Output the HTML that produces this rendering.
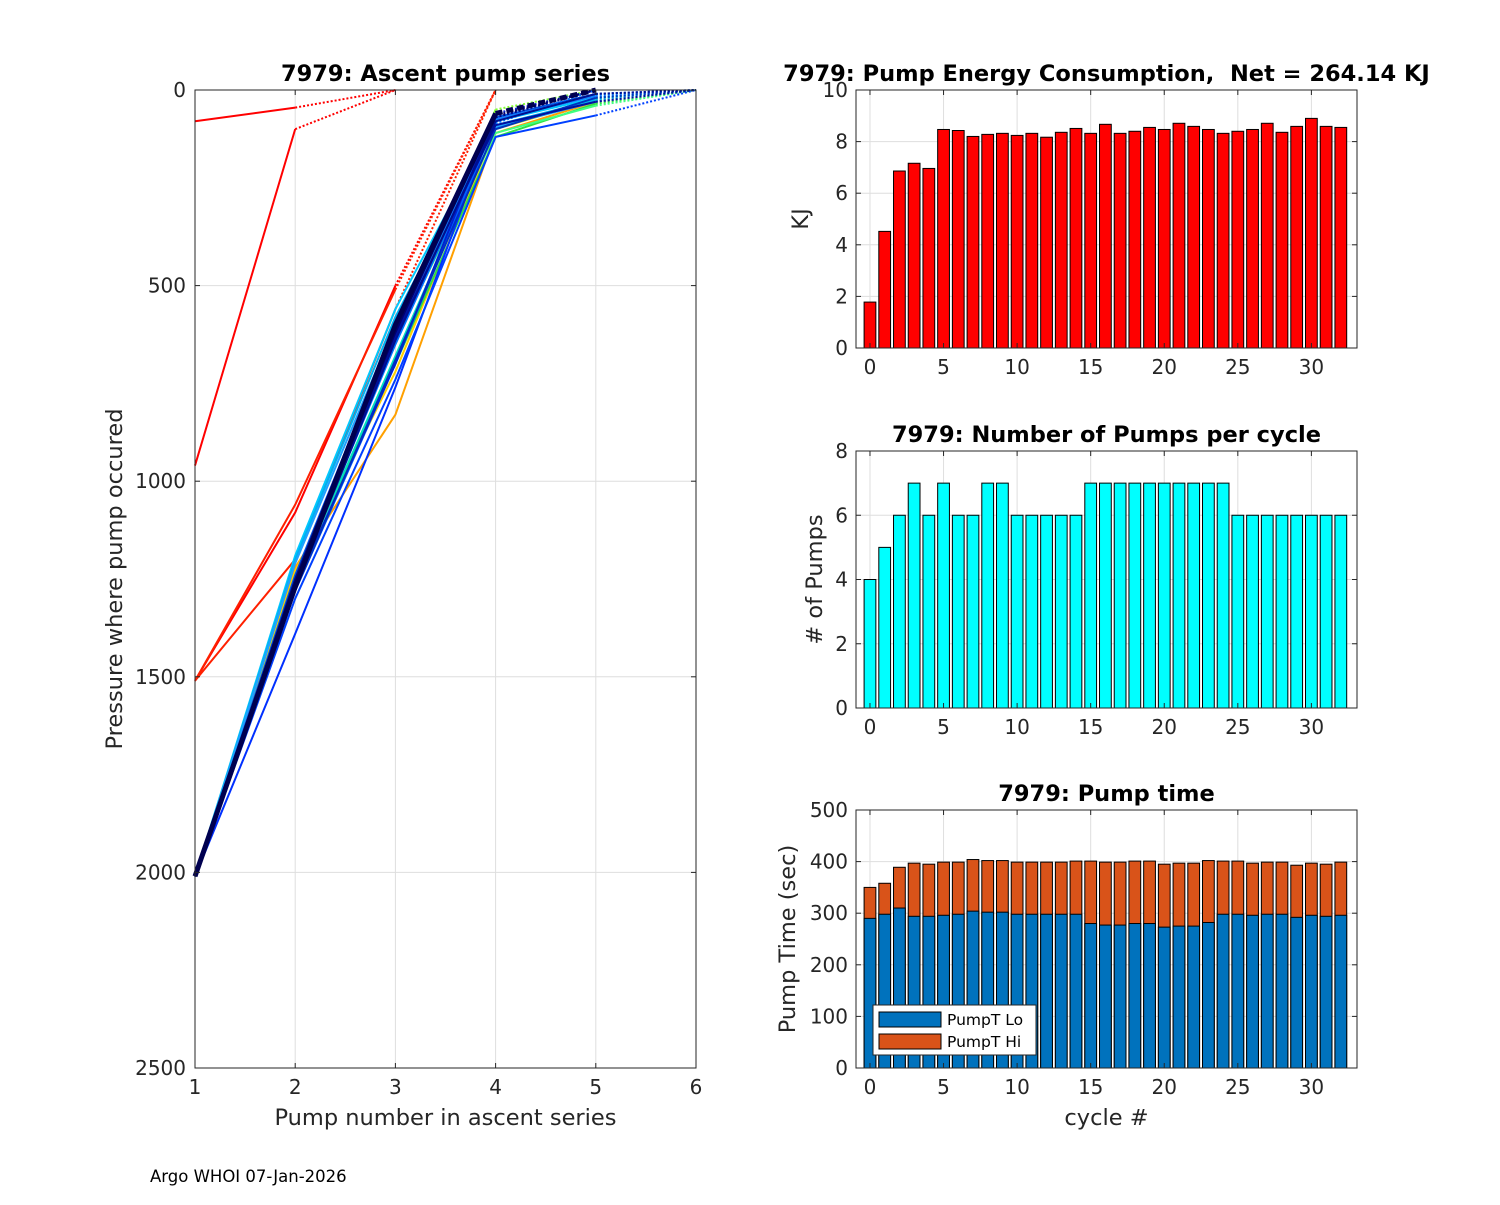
<!DOCTYPE html>
<html><head><meta charset="utf-8">
<style>
body{margin:0;background:#fff;}
svg text{font-family:"DejaVu Sans","Liberation Sans",sans-serif;fill:#262626;}
</style></head>
<body>
<svg id="fig" width="1500" height="1200" viewBox="0 0 1500 1200" xmlns="http://www.w3.org/2000/svg">
<rect width="1500" height="1200" fill="#fff"/>
<g id="left"></g>
<g id="energy"></g>
<g id="pumps"></g>
<g id="ptime"></g>
<text x="150" y="1182" font-size="16.5" style="fill:#000">Argo WHOI 07-Jan-2026</text>
</svg>
<script>
// ---- data ----
const cycles = [0,1,2,3,4,5,6,7,8,9,10,11,12,13,14,15,16,17,18,19,20,21,22,23,24,25,26,27,28,29,30,31,32];
const energyKJ = [1.78,4.52,6.86,7.16,6.96,8.47,8.43,8.2,8.28,8.32,8.24,8.32,8.17,8.36,8.51,8.32,8.67,8.32,8.4,8.55,8.47,8.71,8.59,8.47,8.32,8.4,8.47,8.71,8.36,8.59,8.9,8.59,8.55];
const numPumps = [4,5,6,7,6,7,6,6,7,7,6,6,6,6,6,7,7,7,7,7,7,7,7,7,7,6,6,6,6,6,6,6,6];
const pumpTLo = [290,298,310,294,294,296,298,304,302,302,298,298,298,298,298,280,277,277,280,280,273,275,275,282,298,298,296,298,298,292,296,294,296];
const pumpTTotal = [350,358,389,397,395,399,399,404,402,402,399,399,399,399,401,401,399,399,401,401,395,397,397,402,401,401,397,399,399,393,397,395,399];
const energyTicks = [0,2,4,6,8,10];
const pumpTicks = [0,2,4,6,8];
const timeTicks = [0,100,200,300,400,500];
const xTicks = [0,5,10,15,20,25,30];
const presTicks = [0,500,1000,1500,2000,2500];
const pumpNumTicks = [1,2,3,4,5,6];
// ascent profiles: pressure at each pump (last value = surface, drawn dotted)
const profiles = [
 [80,45,0],[960,100,0],[1510,1080,500,0],[1510,1060,510,0],[1510,1200,560,0],
 [2010,1220,830,110,30,0],[2010,1230,720,100,25,0],[2010,1250,700,120,35,0],
 [2010,1240,650,50,0],[2010,1190,560,80,20,0],[2010,1200,580,90,25,0],
 [2010,1210,600,95,30,0],[2010,1260,680,100,20,0],[2010,1270,640,110,40,0],
 [2010,1390,760,70,0],[2010,1280,700,80,10,0],[2010,1250,620,75,15,0],
 [2010,1240,610,70,10,0],[2010,1260,650,85,0],[2010,1270,700,60,0],
 [2010,1300,740,120,65,0],[2010,1280,690,100,20,0],[2010,1260,630,90,30,0],
 [2010,1270,640,80,10,0],[2010,1250,600,70,0],[2010,1260,620,65,0],
 [2010,1270,600,60,0]
];
const profileColors = ["#ff0000","#ff0000","#ff0000","#ff2000","#ff2000",
 "#ffa000","#ffd000","#30e040","#80ff30","#00c8ff","#00b0f0",
 "#20a0ff","#00e0c0","#40ff80","#0030ff","#0060ff","#1080ff",
 "#0050e0","#0070ff","#0020d0","#0040ff","#0030c0","#0010a0",
 "#001090","#000880","#000070","#000050"];

const NS="http://www.w3.org/2000/svg";
function mk(parent,tag,attrs){const e=document.createElementNS(NS,tag);for(const k in attrs)e.setAttribute(k,attrs[k]);parent.appendChild(e);return e;}

// ---- left chart ----
(function(){
 const g=document.getElementById('left');
 const L=195,R=696,T=90,B=1068;
 const sx=v=>L+(v-1)/(6-1)*(R-L);
 const sy=p=>T+p/2500*(B-T);
 presTicks.forEach(t=>{const l=mk(g,'line',{x1:L,x2:R,y1:sy(t),y2:sy(t),stroke:'#dedede','stroke-width':1});
  
  });
 pumpNumTicks.forEach(t=>{const l=mk(g,'line',{x1:sx(t),x2:sx(t),y1:T,y2:B,stroke:'#dedede','stroke-width':1});
  
  });
 profiles.forEach((pr,i)=>{
  const last=i===profiles.length-1;
  const c=profileColors[i]; const w=last?5:2;
  let d='';
  for(let k=0;k<pr.length-1;k++) d+=(k?'L':'M')+sx(k+1)+','+sy(pr[k]);
  const p=mk(g,'path',{d:d,fill:'none',stroke:c,'stroke-width':w});
  
  
  const n=pr.length;
  const q=mk(g,'line',{x1:sx(n-1),y1:sy(pr[n-2]),x2:sx(n),y2:sy(pr[n-1]),stroke:c,'stroke-width':last?5:2,'stroke-dasharray':last?'7,4':'2,2'});
  
  
 });
 mk(g,'rect',{x:L,y:T,width:R-L,height:B-T,fill:'none',stroke:'#262626','stroke-width':1});
 presTicks.forEach(t=>{
  mk(g,'line',{x1:L,x2:L+5,y1:sy(t),y2:sy(t),stroke:'#262626'});
  mk(g,'line',{x1:R,x2:R-5,y1:sy(t),y2:sy(t),stroke:'#262626'});
  const tx=mk(g,'text',{x:L-9,y:sy(t)+7,'font-size':20,'text-anchor':'end'});tx.textContent=t;
  
  
 });
 pumpNumTicks.forEach(t=>{
  mk(g,'line',{x1:sx(t),x2:sx(t),y1:T,y2:T+5,stroke:'#262626'});
  mk(g,'line',{x1:sx(t),x2:sx(t),y1:B,y2:B-5,stroke:'#262626'});
  const tx=mk(g,'text',{x:sx(t),y:B+26,'font-size':20,'text-anchor':'middle'});tx.textContent=t;
  
  
 });
 const ti=mk(g,'text',{x:(L+R)/2,y:T-9,'font-size':22.5,'font-weight':'bold','text-anchor':'middle',style:'fill:#000'});ti.textContent='7979: Ascent pump series';
 
 
 const xl=mk(g,'text',{x:(L+R)/2,y:B+57,'font-size':22.5,'text-anchor':'middle'});xl.textContent='Pump number in ascent series';
 
 
 const yl=mk(g,'text',{x:0,y:0,'font-size':22.5,'text-anchor':'middle',transform:'translate(122,'+((T+B)/2)+') rotate(-90)'});yl.textContent='Pressure where pump occured';
 
 
})();

// ---- bar chart helper ----
function barChart(id,T,B,ymax,ticks,title,ylabel,series,colors,xlabel,legend){
 const g=document.getElementById(id);
 const L=856,R=1357;
 const sx=v=>L+(v+0.95)/34.05*(R-L);
 const sy=v=>B-v/ymax*(B-T);
 ticks.forEach(t=>{const l=mk(g,'line',{x1:L,x2:R,y1:sy(t),y2:sy(t),stroke:'#dedede'});
  
  });
 xTicks.forEach(t=>{const l=mk(g,'line',{x1:sx(t),x2:sx(t),y1:T,y2:B,stroke:'#dedede'});
  
  });
 const bw=0.8*(sx(1)-sx(0));
 cycles.forEach((c,i)=>{
  for(let s=series.length-1;s>=0;s--){
   const v=series[s][i];
   const r=mk(g,'rect',{x:sx(c)-bw/2,y:sy(v),width:bw,height:sy(0)-sy(v),fill:colors[s],stroke:'#000','stroke-width':1});
   
   
  }
 });
 mk(g,'rect',{x:L,y:T,width:R-L,height:B-T,fill:'none',stroke:'#262626'});
 ticks.forEach(t=>{
  mk(g,'line',{x1:L,x2:L+5,y1:sy(t),y2:sy(t),stroke:'#262626'});
  mk(g,'line',{x1:R,x2:R-5,y1:sy(t),y2:sy(t),stroke:'#262626'});
  const tx=mk(g,'text',{x:L-8,y:sy(t)+7,'font-size':20,'text-anchor':'end'});tx.textContent=t;
  
  
 });
 xTicks.forEach(t=>{
  mk(g,'line',{x1:sx(t),x2:sx(t),y1:B,y2:B-5,stroke:'#262626'});
  mk(g,'line',{x1:sx(t),x2:sx(t),y1:T,y2:T+5,stroke:'#262626'});
  const tx=mk(g,'text',{x:sx(t),y:B+26,'font-size':20,'text-anchor':'middle'});tx.textContent=t;
  
  
 });
 const ti=mk(g,'text',{x:(L+R)/2,y:T-9,'font-size':22.5,'font-weight':'bold','text-anchor':'middle',style:'fill:#000;white-space:pre'});ti.textContent=title;
 
 
 const yl=mk(g,'text',{x:0,y:0,'font-size':22.5,'text-anchor':'middle',transform:'translate('+(id==='energy'?808:(id==='pumps'?822:795))+','+((T+B)/2)+') rotate(-90)'});yl.textContent=ylabel;
 
 
 if(xlabel){const xl=mk(g,'text',{x:(L+R)/2,y:B+57,'font-size':22.5,'text-anchor':'middle'});xl.textContent=xlabel;
  
  }
 if(legend){
  const lg=mk(g,'g',{});
  
  
  mk(lg,'rect',{x:873,y:1005,width:163,height:50,fill:'#fff',stroke:'#262626'});
  legend.forEach((lab,k)=>{
   const y=1012+k*22;
   mk(lg,'rect',{x:879,y:y,width:62,height:15,fill:colors[k],stroke:'#000'});
   const t=mk(lg,'text',{x:947,y:y+13,'font-size':15.5,style:'fill:#000'});t.textContent=lab;
   
   
  });
 }
}
barChart('energy',90,348,10,energyTicks,'7979: Pump Energy Consumption,  Net = 264.14 KJ','KJ',[energyKJ],['#ff0000']);
barChart('pumps',451,708,8,pumpTicks,'7979: Number of Pumps per cycle','# of Pumps',[numPumps],['#00ffff']);
barChart('ptime',810,1068,500,timeTicks,'7979: Pump time','Pump Time (sec)',[pumpTLo,pumpTTotal],['#0072bd','#d95319'],'cycle #',['PumpT Lo','PumpT Hi']);
</script>
</body></html>
